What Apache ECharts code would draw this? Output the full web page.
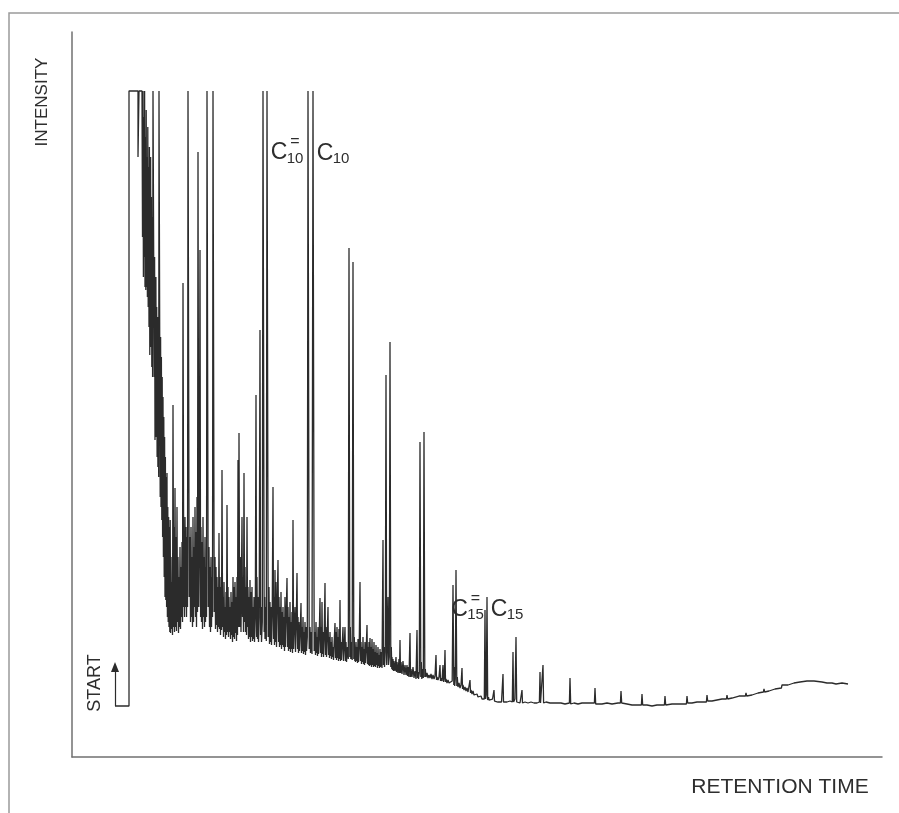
<!DOCTYPE html>
<html>
<head>
<meta charset="utf-8">
<title>Chromatogram</title>
<script src="https://cdn.jsdelivr.net/npm/echarts@6/dist/echarts.min.js"></script>
<style>
html,body{margin:0;padding:0;background:#fff;}
#chart{width:899px;height:813px;}
</style>
</head>
<body>
<div id="chart"></div>
<script>
// retention time (scan units) , intensity (detector units, 666 = off scale)
var startArrow = [[43, 51], [43, 90]];

var injectionStep = [[43,51],[57,51],[57,666],[66,666],[66,600],[67,666],[70,666]];

var leadingEdge = [[70.5,520],[71,666],[71.4,480],[71.8,640],[72.2,500],[72.6,666],[73,470],[73.4,620],[73.8,467],[74.2,647],[74.6,470],[75,600],[75.4,460],[75.8,630],[76.2,450],[76.6,590],[77,430],[77.4,610],[77.8,402],[78,507],[78.3,420],[78.6,600],[79,410],[79.4,560],[79.8,390],[80.2,540],[80.6,380],[81,666],[81.8,666],[82.2,380],[82.6,500],[83,317],[83.2,427],[83.5,330],[83.9,480],[84.3,320],[84.7,450],[85.1,300],[85.5,440],[85.9,290],[86.3,420],[86.7,280],[87,666],[87.8,666],[88.2,260],[88.6,420],[89,250],[89.4,400],[89.8,237],[90.2,380],[90.6,220],[91,360],[91.4,200],[91.8,340],[92.2,180],[92.6,320],[93,160],[93.4,300],[93.8,157],[94.2,280],[94.6,150],[95,284],[95.4,140],[95.8,250],[96.2,135],[96.6,240],[97,130],[97.4,230],[97.8,125],[98.2,237],[98.6,124]];

var denseBandA = [[99,175],[99.5,128],[100,200],[100.5,122],[101,352],[101.7,130],[102,230],[102.5,125],[103,269],[103.5,130],[104,220],[104.5,126],[105,250],[105.5,135],[106,200],[106.5,124],[107,180],[107.5,130],[108,210],[108.5,128],[109,190],[109.5,140],[110,215],[110.5,135],[111,474],[111.8,150],[112,200],[112.5,140],[113,240],[113.5,150],[114,230],[114.5,140],[115,220],[115.5,150],[116,666],[116.8,666],[117.2,160],[118,220],[118.5,135],[119,230],[119.5,140],[120,200],[120.5,130],[121,240],[121.5,135],[122,210],[122.5,150],[123,250],[123.5,140],[124,225],[124.5,130],[125,260],[125.5,145],[126,605],[126.8,150],[127.3,200],[128,507],[128.6,140],[129,230],[129.5,135],[130,215],[130.5,128],[131,240],[131.5,140],[132,200],[132.5,130],[133,220],[133.5,135],[134,190],[134.5,140],[135,666],[135.8,666],[136.2,150],[137,210],[137.5,130],[138,190],[138.5,125],[139,200],[139.5,130],[140,180],[140.5,140],[141,666],[141.8,666],[142.2,145],[143,200],[143.5,128],[144,190],[144.5,132],[145,180],[145.5,125],[146,170],[146.5,130],[147,224],[147.5,128],[148,180],[148.5,122],[149,170],[149.5,127],[150,287],[150.6,130],[151,160],[151.5,120],[152,175],[152.5,125],[153,150],[153.5,118],[154,165],[154.5,122],[155,252],[155.6,125],[156,170],[156.5,120],[157,160],[157.5,125],[158,150],[158.5,118],[159,165],[159.5,122],[160,155],[160.5,115],[161,180],[161.5,120],[162,170],[162.5,118],[163,175],[163.5,124],[164,160],[164.5,116],[165,180],[165.5,122],[166,297],[166.6,130],[167,324],[167.7,130],[168.3,200],[169,125],[170,240],[170.5,140],[171,180],[171.5,125],[172,284],[172.6,135],[173,190],[173.5,125],[174,170],[174.5,122],[175,240],[175.6,130],[176,170],[176.5,118],[177,160],[177.5,120],[178,177],[178.5,115],[179,165],[179.5,120],[180,170],[180.5,116],[181,150],[181.5,118],[182,160],[182.5,115],[183.3,140],[184,362],[184.6,120],[185,180],[185.5,118],[186,160],[186.5,115],[187.2,140],[188,427],[188.6,122],[189,150],[189.5,115],[190.3,135],[191,666],[191.8,666],[192.2,125],[192.7,160],[193,118],[193.8,150],[194.3,116],[195,666],[195.8,666],[196.2,120],[197,170],[197.5,113],[198,155],[198.5,115],[199,150],[199.5,112]];

var denseBandB = [[200.2,140],[201,270],[201.6,118],[202,160],[202.5,112],[203,187],[203.5,115],[204,175],[204.5,110],[205.2,150],[206,197],[206.6,115],[207,160],[207.5,110],[208,150],[208.5,112],[209,165],[209.5,108],[210,145],[210.5,112],[211,150],[211.5,110],[212,140],[212.5,106],[213,160],[213.5,110],[214.2,140],[215,179],[215.6,110],[216,150],[216.5,106],[217,140],[217.5,108],[218,155],[218.5,105],[219,135],[219.5,108],[220,145],[220.5,104],[221,237],[221.6,108],[222.2,130],[223,150],[223.5,105],[224.2,130],[225,184],[225.6,108],[226,140],[226.5,104],[227,135],[227.5,106],[228.2,125],[229,154],[229.5,104],[230,130],[230.5,106],[231,140],[231.5,103],[232,125],[232.5,105],[233,135],[233.5,102],[234,130],[234.5,106],[235.3,120],[236,666],[236.8,666],[237.2,108],[238,130],[238.5,104],[239.3,125],[240,103],[241,666],[241.8,666],[242.2,106],[243,125],[243.5,102],[244,135],[244.5,104],[245,120],[245.5,101],[246,130],[246.5,103],[247.2,120],[248,159],[248.5,104],[249,130],[249.5,100],[250,155],[250.5,103],[251,125],[251.5,100],[252.2,120],[253,174],[253.5,102],[254,130],[254.5,100],[255.2,120],[256,150],[256.5,102],[257,120],[257.5,99],[258,125],[258.5,101],[259,115],[259.5,98],[260,120],[260.5,100],[261,110],[261.5,97],[262.2,115],[263,134],[263.5,99],[264,125],[264.5,97],[265,130],[265.5,99],[266,120],[266.5,96],[267,128],[267.5,98],[268,157],[268.5,96],[269,115],[269.5,97],[270.2,112],[271,130],[271.5,96],[272.2,110],[273,130],[273.5,96],[274,115],[274.5,95],[275.5,110],[276.3,98],[277,509],[277.8,100],[278.3,130],[278.8,98],[279.5,115],[280.2,97],[281,495],[281.8,98],[282.3,120],[282.8,96],[283,110],[283.5,95],[284,115],[284.5,96],[285,110],[285.5,94],[286,118],[286.5,95],[287.2,110],[288,175],[288.5,96],[289,115],[289.5,93],[290,110],[290.5,95],[291,120],[291.5,93],[292,108],[292.5,92],[293,115],[293.5,94],[294.2,108],[295,132],[295.5,93],[296,110],[296.5,92],[297,115],[297.5,91],[298,119],[298.5,92],[299,110],[299.5,90],[300,118],[300.5,92],[301,108],[301.5,90],[302,115],[302.5,91],[303,105],[303.5,90],[304,112],[304.5,92],[305,104],[305.5,89],[306,110],[306.5,91],[307,102],[307.5,89],[308,108],[308.5,90],[309.3,105],[310,89],[311,217],[311.5,92],[312,110],[312.5,90],[313.3,105],[314,382],[314.7,92],[315.3,110],[316,160],[316.5,92],[317.3,100],[318,415],[318.8,90],[319.3,110],[319.8,88]];

var descendingTail = [[320,100],[320.5,87],[321,98],[321.5,86],[322,96],[323,86],[324,100],[324.5,85],[325,95],[326,84],[327,98],[327.5,84],[328,117],[328.5,84],[329,95],[330,83],[331,96],[332,82],[333,92],[334,82],[335,92],[335.5,81],[336,90],[337,80],[338,124],[338.5,80],[339,88],[340,80],[341,90],[342,79],[343,86],[344,78],[345,127],[345.5,79],[346,85],[346.5,78],[347.3,84],[348,315],[348.8,80],[349.3,95],[349.8,78],[350.5,88],[351.3,79],[352,325],[352.8,80],[353.3,88],[354,80],[355,84],[356,79],[357,82],[358,79],[359,83],[360,78],[361,82],[362,78],[363,81],[364,102],[364.5,77],[365,80],[366,77],[367,80],[368,92],[368.5,76],[369,79],[370,76],[371,92],[371.6,75],[372.3,79],[373,107],[373.5,75],[374,78],[375,74],[376,77],[377,74],[378,76],[379,73],[380.2,76],[381,172],[381.8,72],[382.2,90],[382.7,71],[383.3,78],[384,187],[384.8,71],[385.3,80],[386,70],[387,74],[388,69],[389,72],[390,89],[390.5,68],[391,72],[392,67],[393,70],[394,66],[395,69],[396,65],[397,67],[398,77],[398.5,64],[399,67],[400,63],[401,66],[402,62],[403,64],[404,61],[405,63],[406,60],[407,62],[408,59],[409,61],[410,58],[411,60],[412.3,58],[413,147],[413.6,58],[414.3,62],[415,160],[415.7,57],[416.5,60],[417,57],[418,59],[419,56],[420.5,58],[422,67],[422.5,56],[424,57],[426,55],[428,56],[429.5,55],[431,83],[431.5,55],[433,56],[435,55],[438,56],[440.3,55],[441,105],[441.6,55],[443,58],[444,120],[444.7,55],[446,56],[448,54]];

var flatBaseline = [[449.4,55],[450,67],[450.5,54],[453,55],[456,54],[459,55],[462,54],[465,54],[467.4,55],[468,85],[468.5,54],[470.3,56],[471,92],[471.6,54],[474,55],[478,54],[482,54],[486,54],[489,54],[493,53],[497.4,54],[498,79],[498.7,53],[502,54],[506,53],[510,54],[516,54],[522.4,54],[523,69],[523.7,53],[530,53],[535,54],[540,53],[546,54],[548.4,54],[549,66],[549.7,54],[555,53],[560,52],[565,52],[569.4,52],[570,63],[570.7,52],[575,52],[580,51],[585,52],[590,52],[592.4,52],[593,61],[593.7,52],[600,53],[606,53],[610,53],[614.4,53],[615,61],[615.7,54],[620,54],[625,55],[630,55],[634.4,55],[635,62],[635.7,56],[640,56],[645,57],[650,58],[654.4,58],[655,62],[655.7,58],[660,59],[667,61],[673.4,61],[674,64],[674.7,61],[680,62],[686,64],[691.4,65],[692,68],[692.7,65],[697,66],[703,68],[709.4,69],[710,72],[710.7,70],[716,72],[722,74],[728,75],[735,76],[742,76],[750,75],[755,74],[760,74],[764,73],[770,74],[776,73]];

// peak labels: main letter, subscript, unsaturated mark, anchor (data coords of the "C")
var peakNames = ['C', 'C', 'C', 'C'];
var peakSubs = ['10', '10', '15', '15'];
var peakEq = [true, false, true, false];
var peakAnchors = [[207, 604], [253, 603.5], [387.5, 147.5], [427, 147.5]];

var trace = injectionStep.concat(leadingEdge, denseBandA, denseBandB, descendingTail, flatBaseline);

var FONT = '"Liberation Sans", Arial, Helvetica, sans-serif';
var INK = '#2e2e2e';

var chart = echarts.init(document.getElementById('chart'));

function axisStyle(max) {
    return {
        type: 'value',
        min: 0,
        max: max,
        axisLine: {show: true, onZero: false, lineStyle: {color: '#707070', width: 1.5}},
        axisTick: {show: false},
        axisLabel: {show: false},
        splitLine: {show: false}
    };
}

function txt(id, text, x, y, size, rot) {
    return {
        type: 'text', id: id, x: x, y: y, rotation: rot || 0, silent: true,
        style: {text: text, font: size + 'px ' + FONT, fill: INK,
                textAlign: 'center', align: 'center',
                textVerticalAlign: 'middle', verticalAlign: 'middle'}
    };
}

var option = {
    animation: false,
    backgroundColor: '#fff',
    grid: {left: 72, right: 17, top: 32, bottom: 56, containLabel: false},
    xAxis: axisStyle(810),
    yAxis: axisStyle(725),
    series: [{
        type: 'line',
        data: trace,
        symbol: 'none',
        lineStyle: {color: '#2b2b2b', width: 1.3},
        markLine: {
            silent: true,
            symbol: ['none', 'triangle'],
            symbolSize: [8, 10],
            label: {show: false},
            lineStyle: {color: '#2b2b2b', width: 1.2, type: 'solid'},
            data: [[{coord: startArrow[0]}, {coord: startArrow[1]}]]
        }
    }],
    graphic: [
        {type: 'rect', id: 'frame', silent: true,
         shape: {x: 9, y: 13, width: 1000, height: 1000},
         style: {fill: 'none', stroke: '#9b9b9b', lineWidth: 1.5}},
        txt('ylab', 'INTENSITY', 42, 102, 17, Math.PI / 2),
        txt('xlab', 'RETENTION TIME', 780, 787, 21),
        txt('start', 'START', 95, 683, 18, Math.PI / 2)
    ]
};
chart.setOption(option);

var labels = [];
peakAnchors.forEach(function (a, i) {
    var p = chart.convertToPixel({gridIndex: 0}, a);
    labels.push(txt('pc' + i, peakNames[i], p[0], p[1], 23));
    labels.push(txt('ps' + i, peakSubs[i], p[0] + 16, p[1] + 5.5, 15));
    if (peakEq[i]) labels.push(txt('pe' + i, '=', p[0] + 16, p[1] - 11, 16));
});
chart.setOption({graphic: labels});
</script>
</body>
</html>
